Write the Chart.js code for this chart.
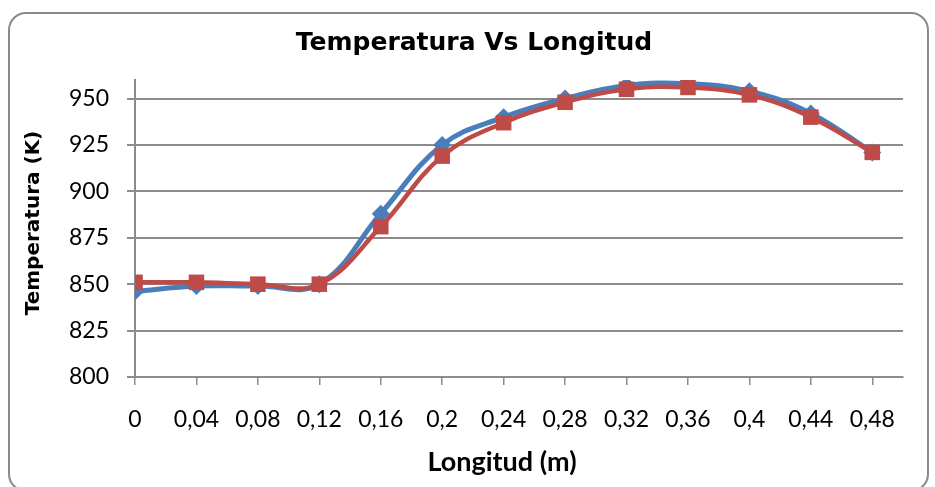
<!DOCTYPE html>
<html>
<head>
<meta charset="utf-8">
<script src="https://cdn.jsdelivr.net/npm/chart.js@4"></script>
<style>
  html, body { margin: 0; padding: 0; background: #fff; }
  #wrap { position: relative; width: 935px; height: 487px; overflow: hidden; }
  #frame {
    position: absolute; left: 8px; top: 12px; width: 917px; height: 476px;
    border: 2px solid #8a8a8a; border-radius: 18px; pointer-events: none;
  }
  canvas { position: absolute; left: 0; top: 0; }
</style>
</head>
<body>
<div id="wrap">
  <canvas id="chart" width="935" height="487"></canvas>
  <div id="frame"></div>
</div>
<script>
// longitud (m) y temperatura (K) de las dos series
const longitud = [0, 0.04, 0.08, 0.12, 0.16, 0.2, 0.24, 0.28, 0.32, 0.36, 0.4, 0.44, 0.48];
const tempAzul = [846, 849, 849, 850, 888, 925, 940, 950, 957, 958, 954, 942, 921];
const tempRoja = [851, 851, 850, 850, 881, 919, 937, 948, 955, 956, 952, 940, 921];
const yTicks = [800, 825, 850, 875, 900, 925, 950];

const FONT = "Lato, 'Open Sans', sans-serif";
const WIDE = "'DejaVu Sans', sans-serif";
const GRID = '#8c8c8c';

const pts = (ys) => longitud.map((x, i) => ({ x: x, y: ys[i] }));

// titulos dibujados a mano para poder colocarlos libremente
const titulos = {
  id: 'titulos',
  afterDraw(chart) {
    const ctx = chart.ctx;
    ctx.save();
    ctx.fillStyle = '#000';
    ctx.textAlign = 'center';
    ctx.textBaseline = 'middle';
    ctx.font = "bold 25px " + WIDE;
    ctx.fillText('Temperatura Vs Longitud', 474, 43);
    ctx.font = "bold 27px " + FONT;
    ctx.fillText('Longitud (m)', 502, 462);
    ctx.translate(34, 223);
    ctx.rotate(-Math.PI / 2);
    ctx.font = "bold 20px " + WIDE;
    ctx.fillText('Temperatura (K)', 0, 0);
    ctx.restore();
  }
};

new Chart(document.getElementById('chart'), {
  type: 'line',
  data: {
    datasets: [
      {
        data: pts(tempAzul),
        borderColor: '#4a7ebb',
        backgroundColor: '#4a7ebb',
        borderWidth: 5,
        tension: 0.4,
        pointStyle: 'rectRot',
        pointRadius: 9,
        pointBorderWidth: 0,
        order: 2
      },
      {
        data: pts(tempRoja),
        borderColor: '#be4b48',
        backgroundColor: '#be4b48',
        borderWidth: 4.5,
        tension: 0.4,
        pointStyle: 'rect',
        pointRadius: 11,
        pointBorderWidth: 0,
        order: 1
      }
    ]
  },
  options: {
    responsive: false,
    animation: false,
    layout: { padding: { left: 0, right: 32, top: 80, bottom: 0 } },
    plugins: {
      legend: { display: false },
      tooltip: { enabled: false },
      title: { display: false }
    },
    scales: {
      x: {
        type: 'linear',
        min: 0,
        max: 0.5,
        afterBuildTicks: (s) => { s.ticks = longitud.map(v => ({ value: v })); },
        afterFit: (s) => { s.height = 110; },
        grid: { drawOnChartArea: false, drawTicks: true, tickLength: 8, color: GRID, lineWidth: 1.5 },
        border: { color: GRID, width: 2 },
        ticks: {
          color: '#000',
          padding: 21,
          maxRotation: 0,
          font: { family: FONT, size: 23 },
          callback: (v) => String(+(+v).toFixed(2)).replace('.', ',')
        }
      },
      y: {
        min: 800,
        max: 960,
        afterBuildTicks: (s) => { s.ticks = yTicks.map(v => ({ value: v })); },
        afterFit: (s) => { s.width = 135; },
        grid: { color: GRID, lineWidth: 2, tickLength: 8 },
        border: { color: GRID, width: 2 },
        ticks: {
          color: '#000',
          padding: 18,
          font: { family: FONT, size: 23 }
        }
      }
    }
  },
  plugins: [titulos]
});
</script>
</body>
</html>
